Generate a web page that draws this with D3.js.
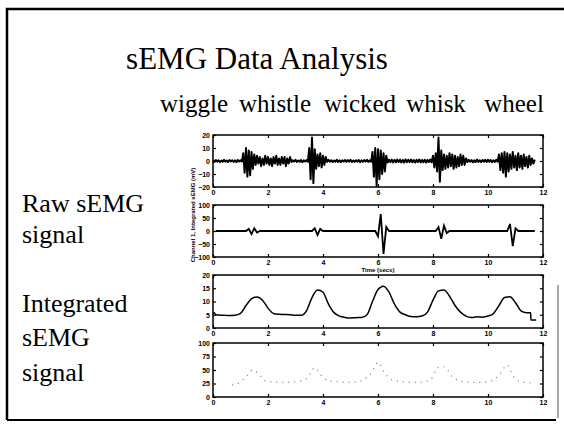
<!DOCTYPE html>
<html>
<head>
<meta charset="utf-8">
<script src="https://d3js.org/d3.v7.min.js"></script>
<style>
  body { margin: 0; background: #fff; }
  svg { display: block; }
  .serif { font-family: "Liberation Serif", "Times New Roman", serif; fill: #000; }
  .tick-lbl { font-family: "Liberation Sans", Arial, sans-serif; font-size: 7px; font-weight: bold; fill: #000; }
</style>
</head>
<body>
<div id="chart"></div>
<script>
// words spoken, in order
var words = ["wiggle", "whistle", "wicked", "whisk", "wheel"];
var xTicks = [0, 2, 4, 6, 8, 10, 12];

// raw sEMG, channel 1, sampled every 0.05 s from t = 0
var rawSignal = [
  0.5, -0.7, 0.8, -0.4, 0.6, -0.9, 0.3, -0.6, 0.9, -0.5, 0.4, -0.8, 0.7, -0.3, 0.6, -0.7, 0.5, -0.9, 0.8, -0.4, 0.6, -0.5,
  6, -9, 10, -12, 8, -11, 7, -6, 5,
  -3, 4, -2, 3, -4, 2, -3, 4, -2, 3, -3, 2, -4, 3, -2, 4, -3, 2, -3, 3, -2, 3, -4, 2, -2, 3,
  -0.8, 0.6, -0.5, 0.9, -0.7, 0.4, -0.6, 0.8, -0.9, 0.5, -0.4, 0.7, -0.6,
  10, -14, 18, -17, 9,
  -6, 5, -4, 6, -5, 4, -3, 3,
  -0.7, 0.9, -0.5, 0.6, -0.8, 0.4, -0.6, 0.9, -0.7, 0.5, -0.9, 0.6, -0.4, 0.8, -0.6, 0.7, -0.5,
  0.9, -0.8, 0.4, -0.7, 0.6, -0.5, 0.8, -0.9, 0.5, -0.6, 0.7, -0.4, 0.9, -0.7, 0.5, -0.6,
  7, -12, 10, -19, 9, -14, 8, -10, 6, -8, 4,
  -1.2, 1.0, -0.8, 1.1, -1.3, 0.9, -1.0, 1.2, -0.7, 1.0, -1.1, 0.8, -1.2, 1.3, -0.9, 1.0, -0.8,
  1.1, -1.0, 0.7, -1.2, 0.9, -0.8, 1.2, -1.1, 0.8, -0.9, 1.0, -1.3, 0.9, -0.7, 1.1, -1.0,
  4, -5, 6, -8, 18, -16, 8, -7, 5, -6, 4, -5, 6, -4, 5, -6, 4, -5, 3, -4, 5, -3, 4, -3, 2,
  -0.8, 0.9, -0.6, 0.7, -1.0, 0.5, -0.8, 1.1, -0.7, 0.6, -0.9, 0.8, -0.5, 0.9, -0.7, 1.0, -0.6, 0.8, -0.9, 0.5, -0.7, 0.9, -0.6,
  5, -7, 6, -9, 7, -12, 6, -8, 5, -6, 7, -5, 4, -7, 6, -5, 4, -6, 5, -4, 3, -5, 4, -3, 2, -2, 1
];
var rawTicks = [-20, -10, 0, 10, 20];

// filtered channel: [time s, value]
var cleanSignal = [
  [0.1, 0], [1.2, 0], [1.3, 8], [1.4, -12], [1.5, 10], [1.6, -6], [1.7, 0],
  [3.6, 0], [3.7, 10], [3.8, -15], [3.9, 8], [4.0, 0],
  [5.9, 0], [6.0, -20], [6.1, 65], [6.2, -88], [6.3, 15], [6.4, 0],
  [8.1, 0], [8.2, 15], [8.3, -30], [8.4, 20], [8.5, -8], [8.6, 0],
  [10.7, 0], [10.8, 27], [10.9, -58], [11.0, 10], [11.1, 0], [11.7, 0]
];
var cleanTicks = [-100, -50, 0, 50, 100];

// integrated sEMG: [time s, value]
var integrated = [
  [0, 5.5], [0.05, 5.8], [0.1, 5.0], [0.4, 4.8], [0.6, 4.7], [0.8, 4.8], [1.0, 5.5],
  [1.2, 8.5], [1.4, 11.0], [1.6, 11.7], [1.8, 10.5], [2.0, 7.5], [2.2, 5.5],
  [2.4, 5.2], [2.6, 5.1], [2.8, 5.0], [3.0, 4.8], [3.2, 4.8], [3.4, 6.5],
  [3.6, 11.5], [3.8, 14.3], [4.0, 13.5], [4.2, 9.0], [4.4, 5.8], [4.6, 4.5],
  [4.8, 4.0], [5.0, 3.8], [5.2, 3.9], [5.4, 4.0], [5.6, 5.0], [5.8, 10.0],
  [6.0, 14.5], [6.2, 15.8], [6.4, 13.5], [6.6, 9.0], [6.8, 6.0], [7.0, 5.0],
  [7.2, 4.3], [7.4, 4.2], [7.6, 4.5], [7.8, 6.0], [8.0, 10.5], [8.2, 14.0],
  [8.4, 14.3], [8.6, 12.0], [8.8, 8.5], [9.0, 6.0], [9.2, 4.5], [9.4, 4.0],
  [9.6, 4.2], [9.8, 4.1], [10.0, 4.5], [10.2, 5.5], [10.4, 8.5], [10.6, 11.5],
  [10.8, 11.8], [11.0, 9.5], [11.2, 6.5], [11.4, 5.8], [11.55, 5.8],
  [11.56, 3.0], [11.75, 3.0]
];
var integTicks = [0, 5, 10, 15, 20];

// second channel, integrated: [time s, value]
var integrated2 = [
  [0.7, 22], [1.0, 28], [1.2, 38], [1.45, 50], [1.7, 40], [1.9, 30], [2.2, 28],
  [2.6, 27], [3.0, 28], [3.4, 34], [3.7, 54], [3.9, 42], [4.2, 30], [4.6, 28],
  [5.0, 27], [5.4, 30], [5.8, 48], [6.0, 64], [6.2, 48], [6.5, 32], [7.0, 28],
  [7.5, 27], [7.9, 32], [8.2, 55], [8.4, 56], [8.7, 38], [9.0, 29], [9.6, 27],
  [10.0, 28], [10.4, 40], [10.7, 59], [10.9, 40], [11.2, 28], [11.7, 26]
];
var integ2Ticks = [0, 25, 50, 75, 100];

var svg = d3.select("#chart").append("svg")
    .attr("width", 564)
    .attr("height", 428);

// slide frame
svg.append("path")
    .attr("d", "M7,420V9H564")
    .attr("fill", "none")
    .attr("stroke", "#000")
    .attr("stroke-width", 2.5);
svg.append("path")
    .attr("d", "M7,420H556")
    .attr("fill", "none")
    .attr("stroke", "#000")
    .attr("stroke-width", 2);
svg.append("path")
    .attr("d", "M558,285V418")
    .attr("fill", "none")
    .attr("stroke", "#aaa")
    .attr("stroke-width", 2);

svg.append("text")
    .attr("class", "serif")
    .attr("x", 257).attr("y", 69)
    .attr("text-anchor", "middle")
    .style("font-size", "31px")
    .text("sEMG Data Analysis");

// words above the traces
var wordX = [194, 275, 360, 436, 514];
svg.selectAll(".word")
    .data(words)
    .enter().append("text")
    .attr("class", "serif word")
    .attr("x", function(d, i) { return wordX[i]; })
    .attr("y", 112)
    .attr("text-anchor", "middle")
    .style("font-size", "25px")
    .text(function(d) { return d; });

var leftLines = [["Raw sEMG", 212], ["signal", 243], ["Integrated", 312], ["sEMG", 346], ["signal", 381]];
svg.selectAll(".side")
    .data(leftLines)
    .enter().append("text")
    .attr("class", "serif side")
    .attr("x", 22)
    .attr("y", function(d) { return d[1]; })
    .style("font-size", "26px")
    .text(function(d) { return d[0]; });

var x = d3.scaleLinear().domain([0, 12]).range([213, 543]);

var panels = [
  { top: 135, bottom: 187, domain: [-20, 20], ticks: rawTicks },
  { top: 205, bottom: 257, domain: [-100, 100], ticks: cleanTicks },
  { top: 275, bottom: 328, domain: [0, 20], ticks: integTicks },
  { top: 343, bottom: 397, domain: [0, 100], ticks: integ2Ticks }
];

panels.forEach(function(p) {
  p.y = d3.scaleLinear().domain(p.domain).range([p.bottom, p.top]);
  var g = svg.append("g");

  g.append("g")
      .attr("transform", "translate(0," + p.bottom + ")")
      .call(d3.axisBottom(x).tickValues(xTicks).tickSize(-3).tickPadding(3).tickFormat(d3.format("d")))
      .call(function(a) {
        a.select(".domain").remove();
        a.selectAll("text").attr("class", "tick-lbl").attr("font-size", null).attr("font-family", null);
      });
  g.append("g")
      .attr("transform", "translate(0," + p.top + ")")
      .call(d3.axisTop(x).tickValues(xTicks).tickSize(-3).tickFormat(""))
      .select(".domain").remove();
  g.append("g")
      .attr("transform", "translate(" + x(0) + ",0)")
      .call(d3.axisLeft(p.y).tickValues(p.ticks).tickSize(-3).tickPadding(3))
      .call(function(a) {
        a.select(".domain").remove();
        a.selectAll("text").attr("class", "tick-lbl").attr("font-size", null).attr("font-family", null);
      });
  g.append("g")
      .attr("transform", "translate(" + x(12) + ",0)")
      .call(d3.axisRight(p.y).tickValues(p.ticks).tickSize(-3).tickFormat(""))
      .select(".domain").remove();

  g.append("rect")
      .attr("x", x(0)).attr("y", p.top)
      .attr("width", x(12) - x(0)).attr("height", p.bottom - p.top)
      .attr("fill", "none")
      .attr("stroke", "#000")
      .attr("stroke-width", 1.5);
  g.selectAll(".tick line").attr("stroke", "#000").attr("stroke-width", 1.2);
});

var p1 = panels[0], p2 = panels[1], p3 = panels[2], p4 = panels[3];

svg.append("path")
    .datum(rawSignal)
    .attr("fill", "none")
    .attr("stroke", "#000")
    .attr("stroke-width", 2)
    .attr("stroke-linejoin", "round")
    .attr("d", d3.line()
        .x(function(d, i) { return x(i * 0.05); })
        .y(function(d) { return p1.y(d); }));

svg.append("path")
    .datum(cleanSignal)
    .attr("fill", "none")
    .attr("stroke", "#000")
    .attr("stroke-width", 1.8)
    .attr("d", d3.line()
        .x(function(d) { return x(d[0]); })
        .y(function(d) { return p2.y(d[1]); }));

svg.append("path")
    .datum(integrated)
    .attr("fill", "none")
    .attr("stroke", "#000")
    .attr("stroke-width", 1.5)
    .attr("d", d3.line()
        .x(function(d) { return x(d[0]); })
        .y(function(d) { return p3.y(d[1]); })
        .curve(d3.curveMonotoneX));

svg.append("path")
    .datum(integrated2)
    .attr("fill", "none")
    .attr("stroke", "#777")
    .attr("stroke-width", 1.2)
    .attr("stroke-dasharray", "1,5")
    .attr("d", d3.line()
        .x(function(d) { return x(d[0]); })
        .y(function(d) { return p4.y(d[1]); })
        .curve(d3.curveMonotoneX));

svg.append("text")
    .attr("class", "tick-lbl")
    .attr("x", x(6)).attr("y", 272)
    .attr("text-anchor", "middle")
    .style("font-size", "6px")
    .text("Time (secs)");

svg.append("text")
    .attr("class", "tick-lbl")
    .attr("transform", "translate(195,215) rotate(-90)")
    .attr("text-anchor", "middle")
    .style("font-size", "6px")
    .text("Channel 1, Integrated sEMG (mV)");
</script>
</body>
</html>
